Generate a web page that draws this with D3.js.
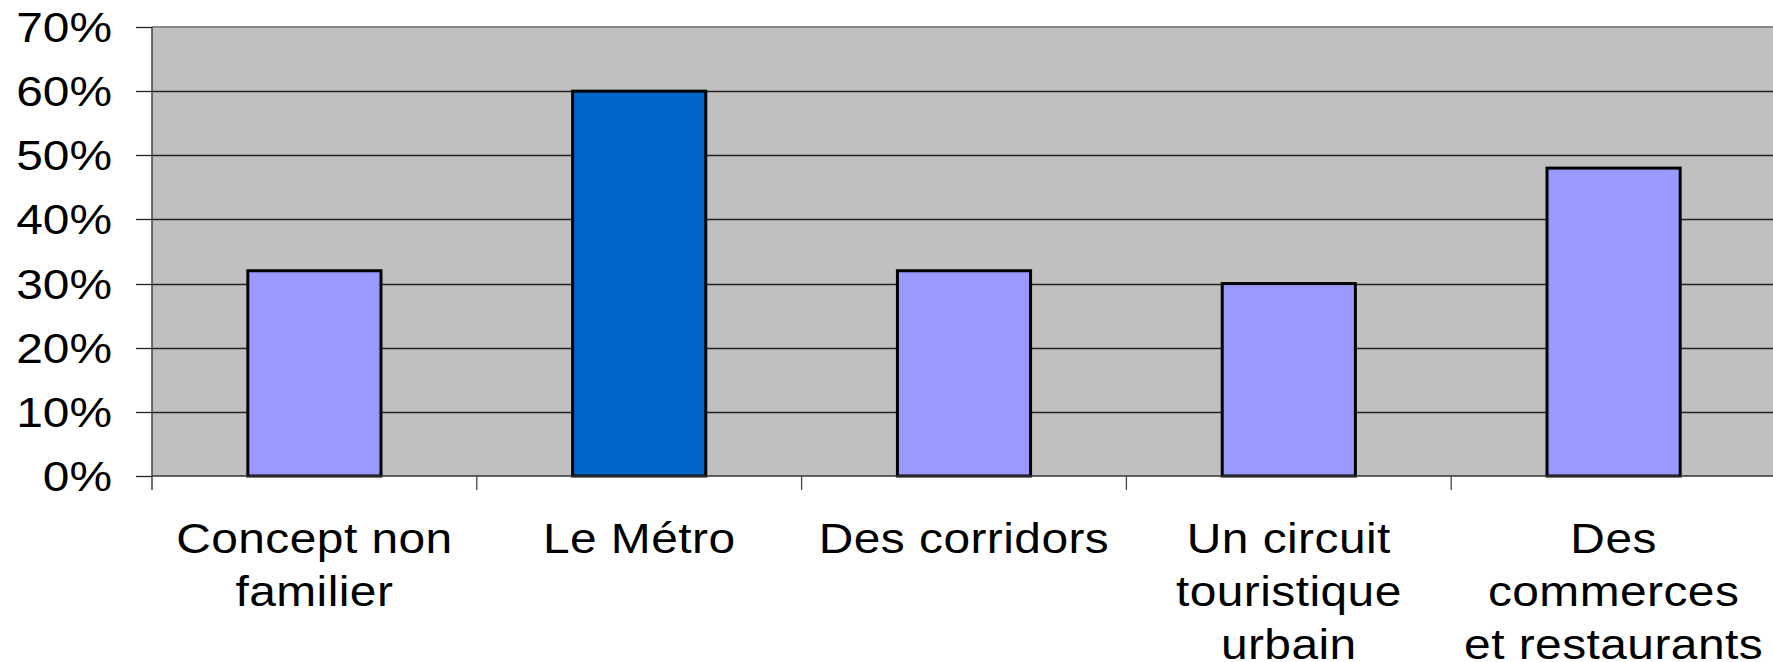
<!DOCTYPE html>
<html>
<head>
<meta charset="utf-8">
<script src="https://cdn.jsdelivr.net/npm/d3@7"></script>
<style>
	html, body { margin: 0; padding: 0; background: #fff; overflow: hidden; }
	svg { display: block; font-family: "Liberation Sans", Arial, sans-serif; }
</style>
</head>
<body>
<svg id="chart" width="1773" height="662"></svg>
<script>
const categories = [
	["Concept non", "familier"],
	["Le Métro"],
	["Des corridors"],
	["Un circuit", "touristique", "urbain"],
	["Des", "commerces", "et restaurants"]
];
const values = [0.32, 0.60, 0.32, 0.30, 0.48];
const barColors = ["#9999ff", "#0066cc", "#9999ff", "#9999ff", "#9999ff"];
const yTicks = [0, 0.1, 0.2, 0.3, 0.4, 0.5, 0.6, 0.7];

const margin = {top: 27, right: -3, bottom: 186, left: 152};
const width = 1773 - margin.left - margin.right;
const height = 662 - margin.top - margin.bottom;
const stretch = 1.14;

const svg = d3.select("#chart");
const g = svg.append("g").attr("transform", `translate(${margin.left}, ${margin.top})`);

const x = d3.scaleBand()
	.domain(d3.range(categories.length))
	.range([0, width])
	.paddingInner(0.59)
	.paddingOuter(0.295);

const xTicksScale = d3.scaleBand()
	.domain(d3.range(categories.length))
	.range([0, width]);

const y = d3.scaleLinear().domain([0, 0.7]).range([height, 0]);

// plot background
g.append("rect")
	.attr("width", width)
	.attr("height", height)
	.attr("fill", "#c0c0c0");

g.append("line")
	.attr("x1", 0).attr("x2", width)
	.attr("y1", 0).attr("y2", 0)
	.attr("stroke", "#888").attr("stroke-width", 2);

// gridlines
g.selectAll(".grid")
	.data(yTicks.slice(1, -1))
	.enter()
	.append("line")
	.attr("class", "grid")
	.attr("x1", 0).attr("x2", width)
	.attr("y1", d => Math.round(y(d)) + 0.5)
	.attr("y2", d => Math.round(y(d)) + 0.5)
	.attr("stroke", "#222").attr("stroke-width", 1.3);

// bars
g.selectAll(".bar")
	.data(values)
	.enter()
	.append("rect")
	.attr("class", "bar")
	.attr("x", (d, i) => x(i))
	.attr("width", x.bandwidth())
	.attr("y", d => y(d))
	.attr("height", d => height - y(d))
	.attr("fill", (d, i) => barColors[i])
	.attr("stroke", "#000")
	.attr("stroke-width", 3);

// y axis
const yAxis = g.append("g");
yAxis.append("line")
	.attr("x1", 0).attr("x2", 0)
	.attr("y1", 0).attr("y2", height + 14)
	.attr("stroke", "#444").attr("stroke-width", 1.5);

yAxis.selectAll(".ytick")
	.data(yTicks)
	.enter()
	.append("line")
	.attr("x1", -16).attr("x2", 0)
	.attr("y1", d => Math.round(y(d)) + 0.5)
	.attr("y2", d => Math.round(y(d)) + 0.5)
	.attr("stroke", "#222").attr("stroke-width", 1.3);

yAxis.selectAll(".ylabel")
	.data(yTicks)
	.enter()
	.append("text")
	.attr("transform", d => `translate(-40, ${y(d) + 15}) scale(${stretch}, 1)`)
	.attr("text-anchor", "end")
	.attr("font-size", "42px")
	.attr("fill", "#000")
	.text(d3.format(".0%"));

// x axis
const xAxis = g.append("g").attr("transform", `translate(0, ${height})`);
xAxis.append("line")
	.attr("x1", 0).attr("x2", width)
	.attr("y1", 0).attr("y2", 0)
	.attr("stroke", "#333").attr("stroke-width", 1.5);

xAxis.selectAll(".xtick")
	.data(d3.range(1, categories.length))
	.enter()
	.append("line")
	.attr("x1", d => xTicksScale(d)).attr("x2", d => xTicksScale(d))
	.attr("y1", 0).attr("y2", 14)
	.attr("stroke", "#444").attr("stroke-width", 1.3);

const labels = xAxis.selectAll(".xlabel")
	.data(categories)
	.enter()
	.append("text")
	.attr("transform", (d, i) => `translate(${x(i) + x.bandwidth() / 2}, 77) scale(${stretch}, 1)`)
	.attr("text-anchor", "middle")
	.attr("font-size", "42px")
	.attr("letter-spacing", "0.4px")
	.attr("fill", "#000");

labels.selectAll("tspan")
	.data(d => d)
	.enter()
	.append("tspan")
	.attr("x", 0)
	.attr("y", (d, i) => i * 53)
	.text(d => d);
</script>
</body>
</html>
